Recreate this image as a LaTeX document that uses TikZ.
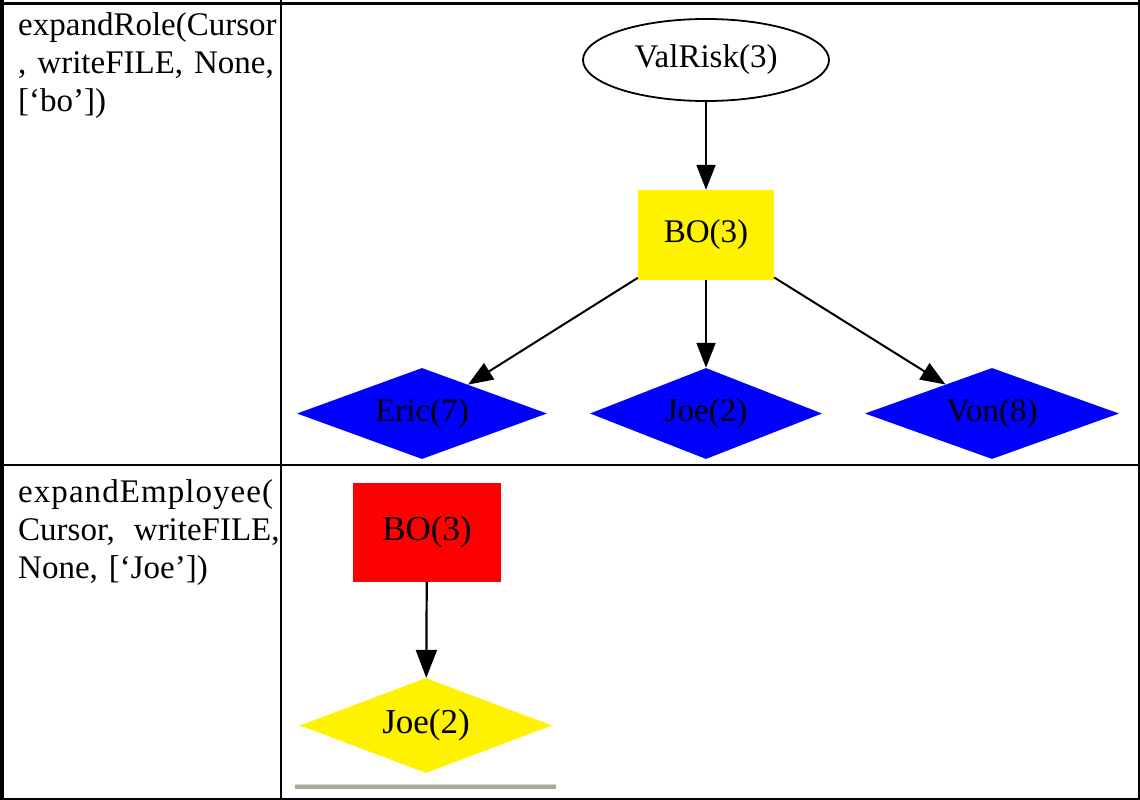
\documentclass[tikz,border=0pt]{standalone}
\usepackage{fontspec}
\setmainfont{Liberation Serif}
\usetikzlibrary{shapes.geometric,arrows.meta}

\definecolor{rulegray}{RGB}{172,167,154}
\definecolor{rulegraylight}{RGB}{216,213,203}

\begin{document}
\begin{tikzpicture}[x=1pt,y=-1pt,
  celltext/.style={anchor=base west, inner sep=0pt, align=left, text width=320pt,
    font=\rmfamily\fontsize{33}{38}\selectfont},
  gnode/.style={inner sep=0pt, font=\rmfamily\fontsize{33}{38}\selectfont},
  gnodeB/.style={inner sep=0pt, font=\rmfamily\fontsize{35}{40}\selectfont},
  gdiamond/.style={diamond, aspect=2.75},
  edge/.style={line width=2pt, -{Triangle[length=25pt,width=19pt]}},
  edgeB/.style={line width=2.2pt, -{Triangle[length=28pt,width=21pt]}},
]
\useasboundingbox (0,0) rectangle (1140,800);

% table rules
\draw[line width=4pt] (2,0) -- (2,800);
\draw[line width=3.5pt] (0,3.3) -- (1140,3.3);
\draw[line width=2.5pt] (1138.8,0) -- (1138.8,800);
\draw[line width=2pt] (0,799) -- (1140,799);
\draw[line width=2pt] (281,0) -- (281,800);
\draw[line width=2pt] (0,465) -- (1140,465);

% left column: calls
\node[celltext] (role) at (18,36) {expandRole(Cursor\\, writeFILE, None,\\{}[‘bo’])};
\node[celltext] (emp) at (18,502)
  {{\addfontfeature{LetterSpace=3.2}expandEmployee(}\\Cursor,\hspace{8pt} writeFILE,\\None, [‘Joe’])};

% upper graph
\node[ellipse, draw, line width=1.8pt, minimum width=246pt, minimum height=82pt, gnode]
  (valrisk) at (706,60) {ValRisk(3)};
\node[rectangle, fill=yellow, minimum width=136pt, minimum height=90pt, gnode]
  (bo) at (706,235) {BO(3)};
\node[gdiamond, fill=blue, minimum width=250pt, minimum height=91pt, gnode]
  (eric) at (422,413.5) {Eric(7)};
\node[gdiamond, fill=blue, minimum width=232pt, minimum height=91pt, gnode]
  (joe) at (706,413.5) {Joe(2)};
\node[gdiamond, fill=blue, minimum width=254pt, minimum height=91pt, gnode]
  (von) at (992,413.5) {Von(8)};

\draw[edge] (valrisk) -- (bo);
\draw[edge] (bo) -- (eric);
\draw[edge] (bo) -- (joe);
\draw[edge] (bo) -- (von);

% lower graph
\node[rectangle, fill=red, minimum width=148pt, minimum height=99pt, gnodeB]
  (bo2) at (427,532.5) {BO(3)};
\node[gdiamond, fill=yellow, minimum width=252pt, minimum height=95pt, gnodeB]
  (joe2) at (426,725.5) {Joe(2)};
\draw[edgeB] (bo2) -- (joe2);

% grey rule under the lower graph
\fill[rulegray] (295,784) rectangle (556,789);
\fill[rulegraylight] (295,783.5) rectangle (556,785);
\end{tikzpicture}
\end{document}
